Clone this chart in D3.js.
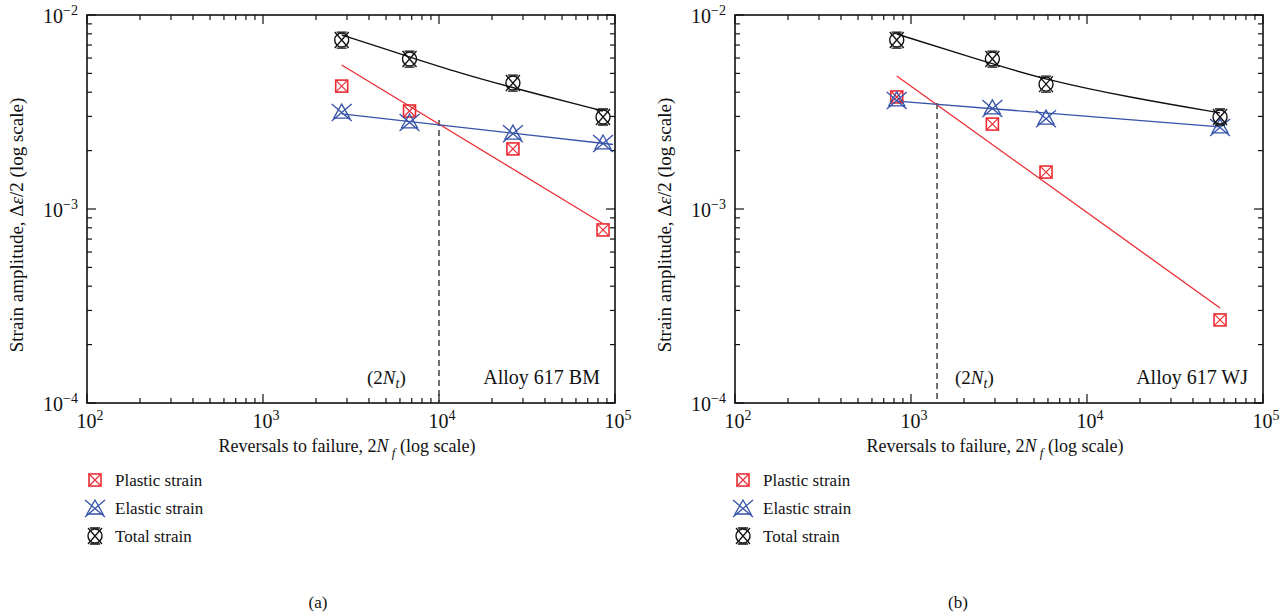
<!DOCTYPE html>
<html>
<head>
<meta charset="utf-8">
<script src="https://cdnjs.cloudflare.com/ajax/libs/d3/7.8.5/d3.min.js"></script>
<style>
  body { margin: 0; background: #fff; }
  svg text { font-family: "Liberation Serif", "DejaVu Serif", serif; fill: #111; }
</style>
</head>
<body>
<svg id="chart" width="1287" height="616"></svg>
<script>
// ---------------- data
var bm_reversals = [2800, 6800, 26300, 85500]
var bm_plastic = [0.0043, 0.0032, 0.00204, 0.00078]
var bm_elastic = [0.00316, 0.00281, 0.00246, 0.00219]
var bm_total = [0.00743, 0.00593, 0.00446, 0.00298]
var bm_plastic_fit = [[2800, 0.00552], [85500, 0.00084]]
var bm_elastic_fit = [[2800, 0.00309], [97500, 0.00215]]
var bm_total_fit = [[2800, 0.00789], [6840, 0.00607], [13150, 0.00502], [26300, 0.00421], [85500, 0.0032]]
var bm_transition = [10000, 0.00288]

var wj_reversals = [830, 2900, 5850, 57000]
var wj_plastic = [0.00378, 0.00274, 0.00155, 0.000268]
var wj_elastic = [0.00365, 0.00332, 0.00294, 0.00265]
var wj_total = [0.00743, 0.00593, 0.0044, 0.00298]
var wj_plastic_fit = [[830, 0.00485], [57000, 0.000309]]
var wj_elastic_fit = [[830, 0.0036], [57000, 0.00265]]
var wj_total_fit = [[830, 0.00798], [2400, 0.0059], [5850, 0.00462], [18240, 0.00373], [57000, 0.00313]]
var wj_transition = [1406, 0.00352]

var x_ticks = [100, 1000, 10000, 100000]
var y_ticks = [0.0001, 0.001, 0.01]
var x_exps = ["2", "3", "4", "5"]
var y_exps = ["\u22124", "\u22123", "\u22122"]
var legend_names = ["Plastic strain", "Elastic strain", "Total strain"]
var panels = [
  { x0: 87, x1: 615, name: "Alloy 617 BM", tag: "(a)", tagx: 318, rev: bm_reversals, pl: bm_plastic, el: bm_elastic, tot: bm_total,
    plfit: bm_plastic_fit, elfit: bm_elastic_fit, totfit: bm_total_fit, nt: bm_transition, ntx: 367 },
  { x0: 735, x1: 1263, name: "Alloy 617 WJ", tag: "(b)", tagx: 958, rev: wj_reversals, pl: wj_plastic, el: wj_elastic, tot: wj_total,
    plfit: wj_plastic_fit, elfit: wj_elastic_fit, totfit: wj_total_fit, nt: wj_transition, ntx: 955 }
]

var RED = "#ec2c34", BLUE = "#3552a8", BLACK = "#111"
var top_y = 15, bottom_y = 403
var svg = d3.select("#chart")

// ---------------- marker drawing
function plasticMarker(g) {
  g.append("rect").attr("x", -6).attr("y", -6).attr("width", 12).attr("height", 12)
    .attr("fill", "none").attr("stroke", RED).attr("stroke-width", 1.6)
  g.append("path").attr("d", "M-6,-6L6,6M6,-6L-6,6").attr("stroke", RED).attr("stroke-width", 1.2)
}
function elasticMarker(g) {
  g.append("path").attr("d", "M0,-8L8,6L-8,6Z").attr("fill", "none").attr("stroke", BLUE).attr("stroke-width", 1.3)
  g.append("path").attr("d", "M-10,-8L10,9M10,-8L-10,9").attr("stroke", BLUE).attr("stroke-width", 1.3)
}
function totalMarker(g) {
  g.append("circle").attr("r", 7).attr("fill", "none").attr("stroke", BLACK).attr("stroke-width", 1.4)
  g.append("path").attr("d", "M-7,-8L7,8M7,-8L-7,8M-5,-8L5,-8M-5,8L5,8").attr("stroke", BLACK).attr("stroke-width", 1.3)
}

panels.forEach(function (p) {
  var x = d3.scaleLog().domain([100, 100000]).range([p.x0, p.x1])
  var y = d3.scaleLog().domain([0.0001, 0.01]).range([bottom_y, top_y])
  var g = svg.append("g")

  //-------- minor / major ticks on all four sides, pointing inward
  var xminor = [], yminor = []
  x_ticks.slice(0, -1).forEach(function (t) { for (var k = 2; k < 10; k++) xminor.push(t * k) })
  y_ticks.slice(0, -1).forEach(function (t) { for (var k = 2; k < 10; k++) yminor.push(t * k) })
  var tk = g.append("g").attr("stroke", BLACK).attr("stroke-width", 1.2)
  xminor.forEach(function (v) {
    tk.append("line").attr("x1", x(v)).attr("x2", x(v)).attr("y1", bottom_y).attr("y2", bottom_y - 5)
    tk.append("line").attr("x1", x(v)).attr("x2", x(v)).attr("y1", top_y).attr("y2", top_y + 5)
  })
  x_ticks.forEach(function (v) {
    tk.append("line").attr("x1", x(v)).attr("x2", x(v)).attr("y1", bottom_y).attr("y2", bottom_y - 9)
    tk.append("line").attr("x1", x(v)).attr("x2", x(v)).attr("y1", top_y).attr("y2", top_y + 9)
  })
  yminor.forEach(function (v) {
    tk.append("line").attr("x1", p.x0).attr("x2", p.x0 + 5).attr("y1", y(v)).attr("y2", y(v))
    tk.append("line").attr("x1", p.x1).attr("x2", p.x1 - 5).attr("y1", y(v)).attr("y2", y(v))
  })
  y_ticks.forEach(function (v) {
    tk.append("line").attr("x1", p.x0).attr("x2", p.x0 + 9).attr("y1", y(v)).attr("y2", y(v))
    tk.append("line").attr("x1", p.x1).attr("x2", p.x1 - 9).attr("y1", y(v)).attr("y2", y(v))
  })
  g.append("rect").attr("x", p.x0).attr("y", top_y).attr("width", p.x1 - p.x0).attr("height", bottom_y - top_y)
    .attr("fill", "none").attr("stroke", BLACK).attr("stroke-width", 1.6)

  //-------- tick labels
  x_ticks.forEach(function (v, i) {
    var t = g.append("text").attr("x", x(v) + 3).attr("y", bottom_y + 25).attr("text-anchor", "middle").style("font-size", "20px")
    t.append("tspan").text("10")
    t.append("tspan").attr("dy", -8).style("font-size", "14px").text(x_exps[i])
  })
  y_ticks.forEach(function (v, i) {
    var t = g.append("text").attr("x", p.x0 - 9).attr("y", y(v) + 8).attr("text-anchor", "end").style("font-size", "20px")
    t.append("tspan").text("10")
    t.append("tspan").attr("dy", -8).style("font-size", "14px").text(y_exps[i])
  })

  //-------- axis titles
  var xt = g.append("text").attr("x", (p.x0 + p.x1) / 2 - 4).attr("y", bottom_y + 49).attr("text-anchor", "middle").style("font-size", "18px")
  xt.append("tspan").text("Reversals to failure, 2")
  xt.append("tspan").style("font-style", "italic").text("N")
  xt.append("tspan").attr("dy", 5).style("font-style", "italic").style("font-size", "13px").text(" f")
  xt.append("tspan").attr("dy", -5).text(" (log scale)")
  var yt = g.append("text").attr("transform", "translate(" + (p.x0 - 64) + "," + ((top_y + bottom_y) / 2 + 16) + ") rotate(-90)")
    .attr("text-anchor", "middle").style("font-size", "19px")
  yt.append("tspan").text("Strain amplitude, \u0394")
  yt.append("tspan").style("font-style", "italic").text("\u03b5")
  yt.append("tspan").text("/2 (log scale)")

  //-------- transition dashed line
  g.append("line").attr("x1", x(p.nt[0])).attr("x2", x(p.nt[0])).attr("y1", y(p.nt[1])).attr("y2", bottom_y)
    .attr("stroke", "#333").attr("stroke-width", 1.4).attr("stroke-dasharray", "6,4")
  var nt = g.append("text").attr("x", p.ntx).attr("y", 384).style("font-size", "19px")
  nt.append("tspan").text("(2")
  nt.append("tspan").style("font-style", "italic").text("N")
  nt.append("tspan").attr("dy", 4).style("font-style", "italic").style("font-size", "14px").text("t")
  nt.append("tspan").attr("dy", -4).text(")")
  g.append("text").attr("x", p.x1 - 15).attr("y", 384).attr("text-anchor", "end").style("font-size", "20px").text(p.name)

  //-------- fit lines
  var line = d3.line().x(function (d) { return x(d[0]) }).y(function (d) { return y(d[1]) })
  g.append("path").attr("d", line(p.plfit)).attr("fill", "none").attr("stroke", RED).attr("stroke-width", 1.3)
  g.append("path").attr("d", line(p.elfit)).attr("fill", "none").attr("stroke", BLUE).attr("stroke-width", 1.3)
  g.append("path").attr("d", line.curve(d3.curveBasis)(p.totfit)).attr("fill", "none").attr("stroke", BLACK).attr("stroke-width", 1.4)

  //-------- markers
  p.rev.forEach(function (r, i) {
    plasticMarker(g.append("g").attr("transform", "translate(" + x(r) + "," + y(p.pl[i]) + ")"))
    elasticMarker(g.append("g").attr("transform", "translate(" + x(r) + "," + y(p.el[i]) + ")"))
    totalMarker(g.append("g").attr("transform", "translate(" + x(r) + "," + y(p.tot[i]) + ")"))
  })

  //-------- legend
  var mk = [plasticMarker, elasticMarker, totalMarker]
  legend_names.forEach(function (n, i) {
    var ly = 480 + i * 28
    mk[i](g.append("g").attr("transform", "translate(" + (p.x0 + 8) + "," + ly + ")"))
    g.append("text").attr("x", p.x0 + 28).attr("y", ly + 6).style("font-size", "17px").text(n)
  })
  g.append("text").attr("x", p.tagx).attr("y", 608).attr("text-anchor", "middle").style("font-size", "17px").text(p.tag)
})
</script>
</body>
</html>
